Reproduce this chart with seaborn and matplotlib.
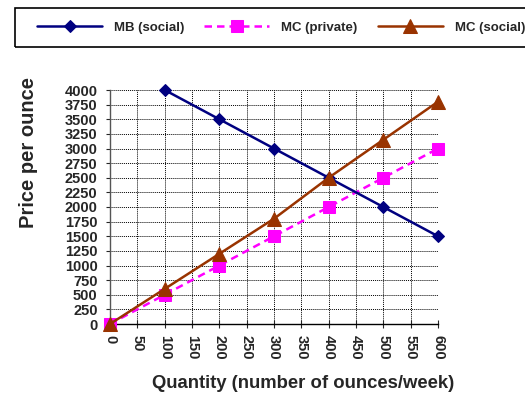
import matplotlib
matplotlib.use("Agg")
import matplotlib.pyplot as plt
from matplotlib.patches import Rectangle
import seaborn as sns

sns.set_style("white")
plt.rcParams['font.family'] = ['Liberation Sans', 'DejaVu Sans']
plt.rcParams['font.weight'] = 'bold'

qty_mb = [100, 200, 300, 400, 500, 600]
mb_social = [4000, 3500, 3000, 2500, 2000, 1500]
qty_mc = [0, 100, 200, 300, 400, 500, 600]
mc_private = [0, 500, 1000, 1500, 2000, 2500, 3000]
mc_social = [0, 600, 1200, 1800, 2500, 3150, 3800]

x_ticks = list(range(0, 601, 50))
y_ticks = list(range(0, 4001, 250))

W, H = 525, 396
fig = plt.figure(figsize=(W/100, H/100), dpi=100)
ax = fig.add_axes([110/W, 1-324/H, (438-110)/W, (324-90)/H])

sns.lineplot(x=qty_mb, y=mb_social, ax=ax, color='#000080', marker='D', markersize=6.5,
             markeredgecolor='#000080', linewidth=1.8, label='MB (social)', clip_on=False, zorder=5)
sns.lineplot(x=qty_mc, y=mc_private, ax=ax, color='#FF00FF', marker='s', markersize=8.5,
             markeredgecolor='#FF00FF', linewidth=1.8, linestyle=(0, (3, 2)), label='MC (private)',
             clip_on=False, zorder=4)
sns.lineplot(x=qty_mc, y=mc_social, ax=ax, color='#993300', marker='^', markersize=10,
             markeredgecolor='#993300', linewidth=1.8, label='MC (social)', clip_on=False, zorder=6)

ax.set_xlim(0, 600)
ax.set_ylim(0, 4000)
ax.set_xticks(x_ticks)
ax.set_yticks(y_ticks)
ax.set_xticklabels([str(t) for t in x_ticks], rotation=270, fontsize=10.5, fontweight='bold')
ax.set_yticklabels([str(t) for t in y_ticks], fontsize=10.5, fontweight='bold')
ax.grid(True, color='black', linestyle=(0, (1, 1)), linewidth=0.7)
ax.set_axisbelow(True)
for s in ['top', 'right']:
    ax.spines[s].set_visible(False)
ax.spines['left'].set_color('#555555')
ax.spines['bottom'].set_color('black')
ax.spines['left'].set_linewidth(1.0)
ax.spines['bottom'].set_linewidth(1.0)
ax.tick_params(axis='x', direction='inout', length=6, width=0.8, pad=5, bottom=True)
ax.tick_params(axis='y', direction='out', length=3, width=0.8, pad=6, left=True)
ax.set_xlabel('')
ax.set_ylabel('')

ax.get_legend().remove()
handles, labels = ax.get_legend_handles_labels()
fs = 9.5
em = fs * 100 / 72
leg = fig.legend(handles, labels, loc='center left', ncol=3,
                 bbox_to_anchor=(37/W, 1-28/H), frameon=False,
                 handlelength=65/em, columnspacing=20/em, handletextpad=12/em,
                 borderpad=0, borderaxespad=0,
                 prop={'weight': 'bold', 'size': fs})
fig.patches.append(Rectangle((15/W, 1-47/H), 520/W, 39/H, transform=fig.transFigure,
                             fill=False, edgecolor='black', linewidth=1.2))

fig.text(28/W, 1-153/H, 'Price per ounce', rotation=90, ha='center', va='center',
         fontsize=14.5, fontweight='bold')
fig.text(303/W, 1-384/H, 'Quantity (number of ounces/week)', ha='center', va='center',
         fontsize=13.3, fontweight='bold')

fig.savefig('out.png', dpi=100)
